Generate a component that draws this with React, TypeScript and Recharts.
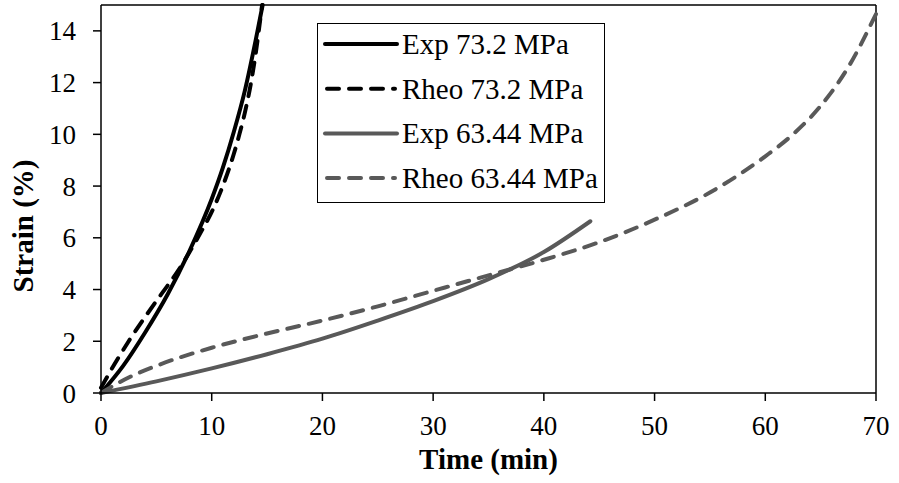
import React from "react";
import { LineChart, Line, XAxis, YAxis, Legend, ReferenceLine } from "recharts";

// creep strain curves, time in minutes, strain in %
const exp732Time = [0, 2, 4, 6, 8, 10, 11, 12, 13, 14, 14.6];
const exp732Strain = [0, 1.05, 2.35, 3.8, 5.5, 7.5, 8.7, 10.1, 11.7, 13.7, 15];

const rheo732Time = [0, 1.2, 2.5, 4, 5.5, 7, 8, 9, 10, 11, 12, 12.5, 13, 13.55, 14, 14.25, 14.55];
const rheo732Strain = [0.2, 1.1, 2, 2.95, 3.85, 4.75, 5.45, 6.2, 7, 8, 9.25, 10, 10.85, 12, 13.2, 14, 15];

const exp6344Time = [0, 5, 10, 15, 20, 25, 30, 35, 40, 44.2];
const exp6344Strain = [0, 0.45, 0.95, 1.5, 2.1, 2.8, 3.55, 4.4, 5.45, 6.64];

const rheo6344Time = [0, 2.5, 5, 10, 15, 20, 25, 30, 35, 40, 45, 50, 55, 60, 62.5, 65, 67.5, 70];
const rheo6344Strain = [0, 0.6, 1.05, 1.75, 2.3, 2.8, 3.35, 3.95, 4.55, 5.15, 5.83, 6.7, 7.75, 9.15, 10.0, 11.1, 12.6, 14.65];

const timeTicks = [0, 10, 20, 30, 40, 50, 60, 70];
const strainTicks = [0, 2, 4, 6, 8, 10, 12, 14];

const FONT = "'Liberation Serif', 'Times New Roman', serif";
const GRAY = "#595959";
const DASH = "12 10";

const toPoints = (t: number[], s: number[]) => t.map((time, i) => ({ time, strain: s[i] }));

const series = [
  { name: "Exp 73.2 MPa", data: toPoints(exp732Time, exp732Strain), color: "#000000", dash: undefined as string | undefined },
  { name: "Rheo 73.2 MPa", data: toPoints(rheo732Time, rheo732Strain), color: "#000000", dash: DASH },
  { name: "Exp 63.44 MPa", data: toPoints(exp6344Time, exp6344Strain), color: GRAY, dash: undefined },
  { name: "Rheo 63.44 MPa", data: toPoints(rheo6344Time, rheo6344Strain), color: GRAY, dash: DASH },
];

const tickStyle = { fill: "#000", fontSize: 27, fontFamily: FONT, style: { fontFamily: FONT } };

const LegendBox = () => (
  <svg width={288} height={180} style={{ display: "block", fontFamily: FONT }}>
    <rect x={0.5} y={0.5} width={287} height={179} fill="#fff" stroke="#000" strokeWidth={1} />
    {series.map((s, i) => {
      const cy = 21 + i * 44.7;
      return (
        <g key={s.name}>
          <line
            x1={s.dash ? 10 : 8}
            x2={s.dash ? 78 : 80}
            y1={cy}
            y2={cy}
            stroke={s.color}
            strokeWidth={4}
            strokeDasharray={s.dash}
            strokeLinecap="round"
          />
          <text x={85} y={cy + 10} fontSize={29} fontFamily={FONT} style={{ fontFamily: FONT }} fill="#000">
            {s.name}
          </text>
        </g>
      );
    })}
  </svg>
);

const YTitle = () => (
  <text
    x={33}
    y={226}
    transform="rotate(-90, 33, 226)"
    textAnchor="middle"
    fontSize={29}
    fontWeight="bold"
    fontFamily={FONT}
    style={{ fontFamily: FONT }}
    fill="#000"
  >
    Strain (%)
  </text>
);

export default function App() {
  return (
    <div style={{ position: "absolute", left: 0, top: 0, background: "#fff", fontFamily: FONT }}>
      <LineChart
        width={899}
        height={483}
        margin={{ top: 5, right: 23, bottom: 0, left: 41 }}
        style={{ fontFamily: FONT }}
      >
        <XAxis
          type="number"
          dataKey="time"
          domain={[0, 70]}
          ticks={timeTicks}
          allowDuplicatedCategory={false}
          height={90}
          tickSize={8}
          tickMargin={15}
          tick={tickStyle}
          axisLine={{ stroke: "#000", strokeWidth: 1.5 }}
          tickLine={{ stroke: "#000", strokeWidth: 1.5 }}
          label={{
            value: "Time (min)",
            position: "insideBottom",
            offset: 14,
            style: { fill: "#000", fontSize: 29, fontWeight: "bold", fontFamily: FONT },
          }}
        />
        <YAxis
          type="number"
          domain={[0, 15]}
          ticks={strainTicks}
          width={60}
          tickSize={8}
          tickMargin={17}
          tick={tickStyle}
          axisLine={{ stroke: "#000", strokeWidth: 1.5 }}
          tickLine={{ stroke: "#000", strokeWidth: 1.5 }}
          label={{ content: YTitle }}
        />
        <ReferenceLine y={15} stroke="#000" strokeWidth={1.5} />
        <ReferenceLine x={70} stroke="#000" strokeWidth={1.5} />
        {series.map((s) => (
          <Line
            key={s.name}
            data={s.data}
            dataKey="strain"
            name={s.name}
            type="monotone"
            stroke={s.color}
            strokeWidth={4}
            strokeDasharray={s.dash}
            strokeLinecap="round"
            dot={false}
            activeDot={false}
            isAnimationActive={false}
          />
        ))}
        <Legend
          layout="vertical"
          align="center"
          verticalAlign="middle"
          content={LegendBox}
          wrapperStyle={{ left: 317, top: 23, width: 288, height: 180 }}
        />
      </LineChart>
    </div>
  );
}
